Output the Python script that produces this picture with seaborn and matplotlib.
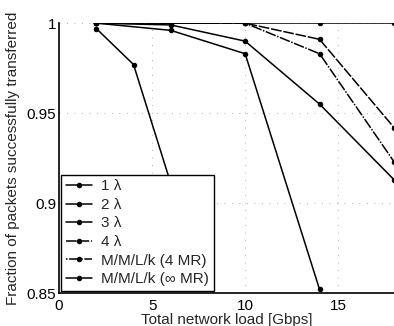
import matplotlib
matplotlib.use("Agg")
import matplotlib.pyplot as plt
import seaborn as sns
import pandas as pd

# data
labels = ["1 \u03bb", "2 \u03bb", "3 \u03bb", "4 \u03bb", "M/M/L/k (4 MR)", "M/M/L/k (\u221e MR)"]
x_1 = [2, 4, 6]
y_1 = [0.997, 0.977, 0.911]
x_2 = [2, 6, 10, 14]
y_2 = [1.0, 0.996, 0.983, 0.852]
x_3 = [2, 6, 10, 14, 18]
y_3 = [1.0, 0.999, 0.990, 0.955, 0.913]
x_4 = [2, 6, 10, 14, 18]
y_4 = [1.0, 1.0, 1.0, 0.991, 0.942]
x_5 = [2, 6, 10, 14, 18]
y_5 = [1.0, 1.0, 1.0, 0.983, 0.923]
x_6 = [2, 6, 10, 14, 18]
y_6 = [1.0, 1.0, 1.0, 1.0, 1.0]

xs = [x_1, x_2, x_3, x_4, x_5, x_6]
ys = [y_1, y_2, y_3, y_4, y_5, y_6]
styles = ["-", "-", "-", (0, (7, 1.2)), (0, (1, 1, 7, 1)), "-"]

sns.set_style("white")
plt.rcParams["font.family"] = ["Liberation Sans", "DejaVu Sans"]
plt.rcParams["font.size"] = 11

fig = plt.figure(figsize=(3.94, 3.26), dpi=100)
ax = fig.add_axes([0.150, 0.101, 0.85, 0.828])

for lab, xv, yv, ls in zip(labels, xs, ys, styles):
    df = pd.DataFrame({"load": xv, "frac": yv})
    sns.lineplot(data=df, x="load", y="frac", ax=ax, color="black", lw=1.1,
                 linestyle=ls, marker="o", markersize=3.2, markeredgecolor="black",
                 label=lab, sort=False)

ax.set_xlim(0, 18)
ax.set_ylim(0.85, 1.0)
ax.set_xticks([0, 5, 10, 15])
ax.set_xticklabels(["0", "5", "10", "15"])
ax.set_yticks([0.85, 0.9, 0.95, 1.0])
ax.set_yticklabels(["0.85", "0.9", "0.95", "1"])
ax.tick_params(direction="in", length=3, width=0.8, labelsize=11, pad=2, colors="black")
ax.tick_params(axis="x", pad=4)
ax.grid(True, linestyle=(0, (1, 8)), color="0.6", lw=0.6)

for side in ["left", "bottom"]:
    ax.spines[side].set_color("black")
    ax.spines[side].set_linewidth(1.2)
ax.spines["top"].set_visible(False)
ax.spines["right"].set_visible(False)

ax.set_xlabel("Total network load [Gbps]", fontsize=11, labelpad=0)
ax.set_ylabel("Fraction of packets successfully transferred", fontsize=11, labelpad=5)

leg = ax.legend(loc="lower left", fontsize=11, frameon=True, fancybox=False,
                framealpha=1, edgecolor="black", handlelength=1.7,
                borderaxespad=0.15, labelspacing=0.3, borderpad=0.3,
                handletextpad=0.6)
leg.get_frame().set_linewidth(1.0)
leg.set_zorder(5)

fig.savefig("out.png", dpi=100)
